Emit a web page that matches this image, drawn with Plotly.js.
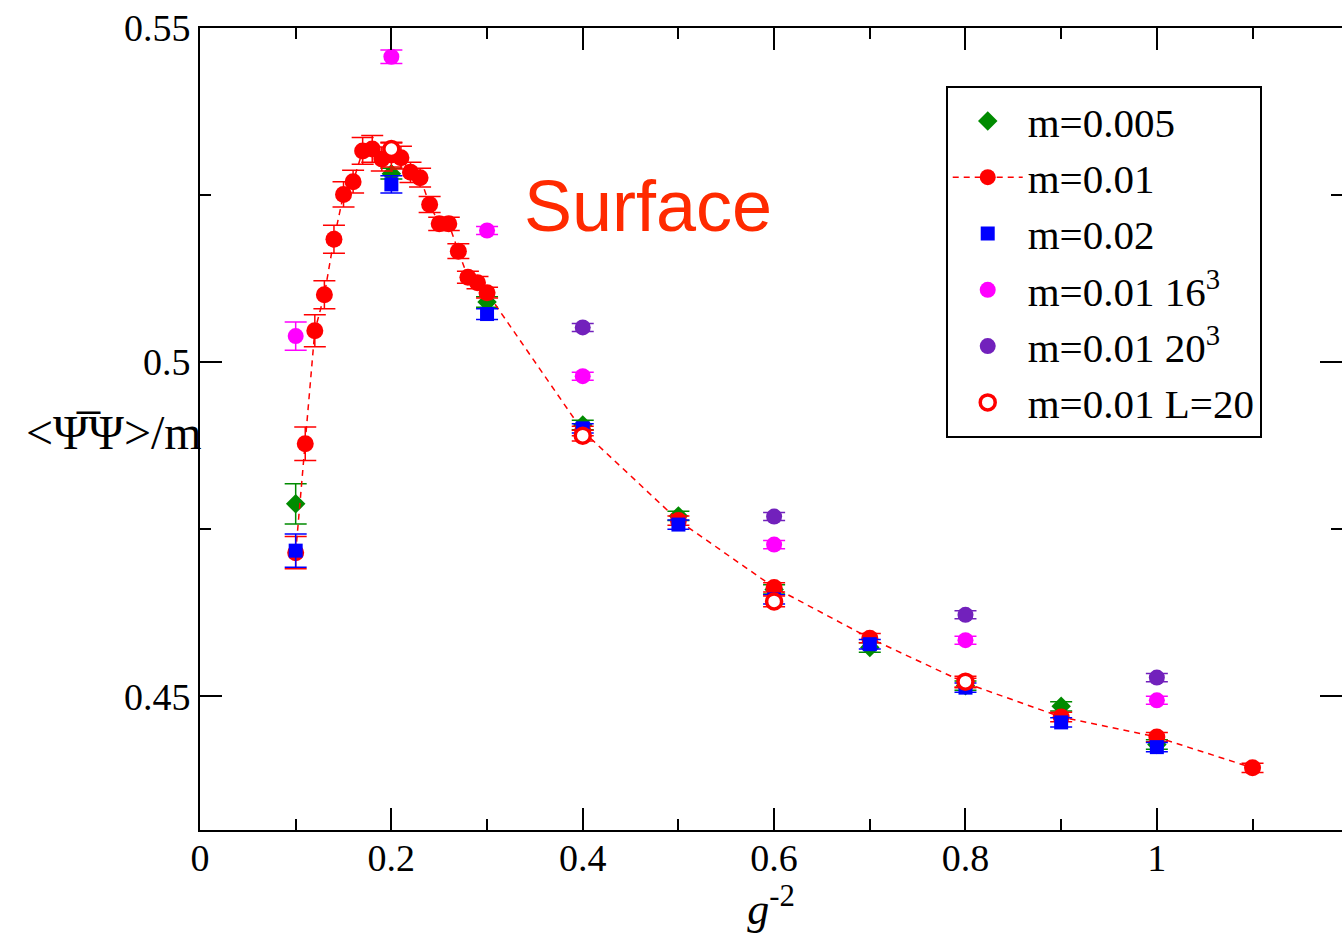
<!DOCTYPE html>
<html>
<head>
<meta charset="utf-8">
<script src="https://cdn.plot.ly/plotly-3.0.1.min.js"></script>
<style>body{margin:0;background:#fff}#plot{width:1342px;height:945px}</style>
</head>
<body>
<div id="plot"></div>
<script>
// m=0.005
const x005 = [0.1, 0.2, 0.3, 0.4, 0.5, 0.6, 0.7, 0.8, 0.9, 1.0];
const y005 = [0.4788, 0.5282, 0.5090, 0.4906, 0.4770, 0.4660, 0.4573, 0.4516, 0.4485, 0.4428];
const e005 = [0.0030, 0.0008, 0.0008, 0.0007, 0.0007, 0.0007, 0.0007, 0.0007, 0.0007, 0.0007];
// m=0.01
const x01 = [0.1, 0.11, 0.12, 0.13, 0.14, 0.15, 0.16, 0.17, 0.18, 0.19, 0.2, 0.21, 0.22, 0.23, 0.24, 0.25, 0.26, 0.27, 0.28, 0.29, 0.3, 0.4, 0.5, 0.6, 0.7, 0.8, 0.9, 1.0, 1.1];
const y01 = [0.4715, 0.4878, 0.5047, 0.5101, 0.5184, 0.5251, 0.5270, 0.5316, 0.5319, 0.5304, 0.5310, 0.5306, 0.5284, 0.5276, 0.5236, 0.5207, 0.5207, 0.5166, 0.5127, 0.5119, 0.5104, 0.4897, 0.4763, 0.4663, 0.4587, 0.4520, 0.4469, 0.4439, 0.4393];
const e01 = [0.0024, 0.0025, 0.0024, 0.0021, 0.0021, 0.0019, 0.0017, 0.0020, 0.0020, 0.0018, 0.0018, 0.0017, 0.0015, 0.0014, 0.0012, 0.0010, 0.0010, 0.0011, 0.0009, 0.0009, 0.0008, 0.0007, 0.0007, 0.0007, 0.0007, 0.0007, 0.0007, 0.0007, 0.0007];
// m=0.02
const x02 = [0.1, 0.2, 0.3, 0.4, 0.5, 0.6, 0.7, 0.8, 0.9, 1.0];
const y02 = [0.4718, 0.5266, 0.5072, 0.4901, 0.4757, 0.4645, 0.4578, 0.4513, 0.4461, 0.4424];
const e02 = [0.0025, 0.0013, 0.0008, 0.0007, 0.0007, 0.0007, 0.0007, 0.0007, 0.0007, 0.0007];
// m=0.01 16^3
const x16 = [0.1, 0.2, 0.3, 0.4, 0.6, 0.8, 1.0];
const y16 = [0.5039, 0.5457, 0.5197, 0.4979, 0.4727, 0.4584, 0.4494];
const e16 = [0.0021, 0.0010, 0.0006, 0.0006, 0.0006, 0.0006, 0.0006];
// m=0.01 20^3
const x20 = [0.4, 0.6, 0.8, 1.0];
const y20 = [0.5052, 0.4769, 0.4622, 0.4528];
const e20 = [0.0006, 0.0006, 0.0006, 0.0006];
// m=0.01 L=20
const xL = [0.2, 0.4, 0.6, 0.8];
const yL = [0.5319, 0.4890, 0.4642, 0.4522];
const eL = [0.0010, 0.0008, 0.0008, 0.0008];

const xTicks = [0, 0.2, 0.4, 0.6, 0.8, 1];
const xTickText = ['0', '0.2', '0.4', '0.6', '0.8', '1'];
const yTicks = [0.45, 0.5, 0.55];
const yTickText = ['0.45', '0.5', '0.55'];

const GREEN = 'rgb(0,139,0)', RED = 'rgb(255,0,0)', BLUE = 'rgb(0,0,255)',
      MAG = 'rgb(255,0,255)', PUR = 'rgb(114,33,188)';

function err(arr, color, w) {
  return {type: 'data', array: arr, visible: true, color: color, thickness: 1.5, width: w};
}

const traces = [
  {x: x005, y: y005, name: 'm=0.005', type: 'scatter', mode: 'markers',
   marker: {symbol: 'diamond', size: 15, color: GREEN}, error_y: err(e005, GREEN, 11)},
  {x: x01, y: y01, name: 'm=0.01', type: 'scatter', mode: 'lines+markers',
   line: {color: RED, width: 1.5, dash: '6px,5px'},
   marker: {symbol: 'circle', size: 17, color: RED}, error_y: err(e01, RED, 11)},
  {x: x02, y: y02, name: 'm=0.02', type: 'scatter', mode: 'markers',
   marker: {symbol: 'square', size: 14, color: BLUE}, error_y: err(e02, BLUE, 11)},
  {x: x16, y: y16, name: 'm=0.01 16<sup>3</sup>', type: 'scatter', mode: 'markers',
   marker: {symbol: 'circle', size: 16, color: MAG}, error_y: err(e16, MAG, 11)},
  {x: x20, y: y20, name: 'm=0.01 20<sup>3</sup>', type: 'scatter', mode: 'markers',
   marker: {symbol: 'circle', size: 16, color: PUR}, error_y: err(e20, PUR, 11)},
  {x: xL, y: yL, name: 'm=0.01 L=20', type: 'scatter', mode: 'markers',
   marker: {symbol: 'circle', size: 15, color: 'white', line: {color: RED, width: 3.5}},
   error_y: err(eL, RED, 11)}
];

const FONT = 'Liberation Serif, Times New Roman, serif';

const layout = {
  width: 1342, height: 945,
  margin: {l: 200, r: 0, t: 28, b: 115},
  paper_bgcolor: 'white', plot_bgcolor: 'white',
  font: {family: FONT, size: 38, color: 'black'},
  showlegend: true,
  legend: {
    x: 0.653, y: 0.928, xanchor: 'left', yanchor: 'top',
    bgcolor: 'white', bordercolor: 'black', borderwidth: 2,
    font: {family: FONT, size: 41, color: 'black'},
    itemwidth: 70, tracegroupgap: 0, entrywidth: 360
  },
  xaxis: {
    range: [0, 1.1935], tickvals: xTicks, ticktext: xTickText,
    ticks: 'inside', ticklen: 22, tickwidth: 2, tickcolor: 'black',
    showline: true, linewidth: 2, linecolor: 'black', mirror: 'ticks',
    showgrid: false, zeroline: false, ticklabelstandoff: -7,
    tickfont: {family: FONT, size: 38},
    minor: {dtick: 0.1, tick0: 0, ticks: 'inside', ticklen: 11, tickwidth: 2, tickcolor: 'black', showgrid: false},
    title: {text: '<i>g</i><sup>-2</sup>', font: {family: FONT, size: 44}, standoff: 16}
  },
  yaxis: {
    range: [0.43, 0.55], tickvals: yTicks, ticktext: yTickText,
    ticks: 'inside', ticklen: 22, tickwidth: 2, tickcolor: 'black',
    showline: true, linewidth: 2, linecolor: 'black', mirror: 'ticks',
    showgrid: false, zeroline: false,
    tickfont: {family: FONT, size: 38},
    minor: {dtick: 0.025, tick0: 0.45, ticks: 'inside', ticklen: 11, tickwidth: 2, tickcolor: 'black', showgrid: false}
  },
  annotations: [
    {text: 'Surface', xref: 'paper', yref: 'paper', x: (648 - 200) / 1142, y: (830 - 205) / 803,
     xanchor: 'center', yanchor: 'middle', showarrow: false,
     font: {family: 'Liberation Sans, Arial, sans-serif', size: 72, color: 'rgb(255,42,0)'}},
    {text: '&lt;\u03A8\u0305\u03A8&gt;/m', xref: 'paper', yref: 'paper', x: 0, y: (830 - 432) / 803,
     xanchor: 'right', yanchor: 'middle', showarrow: false, xshift: 4,
     font: {family: FONT, size: 48, color: 'black'}}
  ]
};

Plotly.newPlot('plot', traces, layout, {displayModeBar: false, staticPlot: true});
</script>
</body>
</html>
